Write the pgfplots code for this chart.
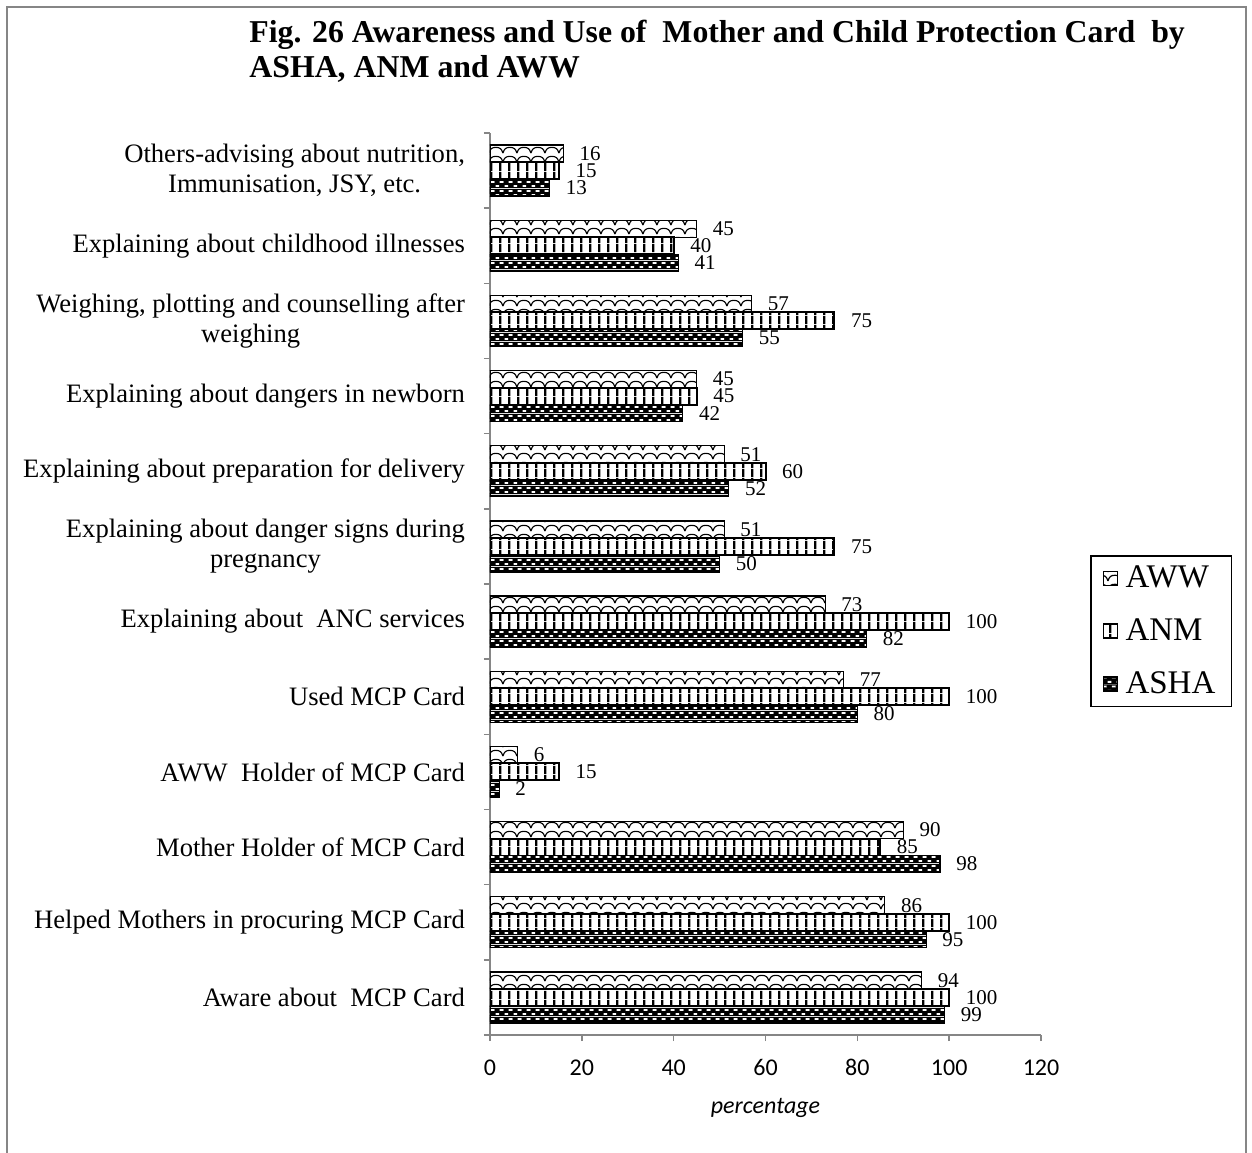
\documentclass[border=0pt]{standalone}
\usepackage{fontspec}
\setmainfont{Liberation Serif}
\newfontfamily\carlito{Carlito}
\usepackage{pgfplots}
\pgfplotsset{compat=1.18}
\usetikzlibrary{patterns}

\pgfdeclarepatterninherentlycolored{awwpat}{\pgfpointorigin}{\pgfpoint{7.2pt}{4.25pt}}{\pgfpoint{7.2pt}{4.25pt}}{%
  \pgfsetfillcolor{white}%
  \pgfpathrectangle{\pgfpointorigin}{\pgfpoint{7.2pt}{4.25pt}}\pgfusepath{fill}%
  \pgfsetstrokecolor{black}\pgfsetlinewidth{0.6pt}%
  \pgfpathmoveto{\pgfpoint{0pt}{0.5pt}}%
  \pgfpathcurveto{\pgfpoint{0.6pt}{2.8pt}}{\pgfpoint{1.6pt}{3.5pt}}{\pgfpoint{3.6pt}{3.5pt}}%
  \pgfpathcurveto{\pgfpoint{5.6pt}{3.5pt}}{\pgfpoint{6.6pt}{2.8pt}}{\pgfpoint{7.2pt}{0.5pt}}%
  \pgfusepath{stroke}%
}
\pgfdeclarepatterninherentlycolored{anmpat}{\pgfpointorigin}{\pgfpoint{4.3pt}{4.25pt}}{\pgfpoint{4.3pt}{4.25pt}}{%
  \pgfsetfillcolor{white}%
  \pgfpathrectangle{\pgfpointorigin}{\pgfpoint{4.3pt}{4.25pt}}\pgfusepath{fill}%
  \pgfsetfillcolor{black}%
  \pgfpathrectangle{\pgfpointorigin}{\pgfpoint{1.2pt}{4.25pt}}\pgfusepath{fill}%
}
\pgfdeclarepatterninherentlycolored{ashapat}{\pgfpointorigin}{\pgfpoint{4.5pt}{4.25pt}}{\pgfpoint{4.5pt}{4.25pt}}{%
  \pgfsetfillcolor{black}%
  \pgfpathrectangle{\pgfpointorigin}{\pgfpoint{4.5pt}{4.25pt}}\pgfusepath{fill}%
  \pgfsetfillcolor{white}%
  \pgfpathrectangle{\pgfpoint{0.3pt}{0.6pt}}{\pgfpoint{2pt}{0.9pt}}\pgfusepath{fill}%
  \pgfpathrectangle{\pgfpoint{2.55pt}{2.75pt}}{\pgfpoint{1.95pt}{0.9pt}}\pgfusepath{fill}%
}

\definecolor{axgray}{RGB}{134,134,134}

\begin{document}
\begin{tikzpicture}
\useasboundingbox (0,0) rectangle (626pt,-576pt);
\draw[axgray,line width=1pt] (3.5pt,-580pt) -- (3.5pt,-3.5pt) -- (623pt,-3.5pt) -- (623pt,-580pt);
\node[anchor=base west,font=\fontsize{15.9pt}{17.5pt}\selectfont\bfseries,inner sep=0pt] at (124.5pt,-21pt)
  {Fig. 26 Awareness and Use of\ \ Mother and Child Protection Card\ \ by};
\node[anchor=base west,font=\fontsize{15.9pt}{17.5pt}\selectfont\bfseries,inner sep=0pt] at (124.5pt,-38.5pt)
  {ASHA, ANM and AWW};
\begin{axis}[
  at={(245pt,-517.5pt)}, anchor=south west,
  scale only axis, width=275.5pt, height=451pt,
  xbar, bar width=8.5pt,
  xmin=0, xmax=120, ymin=-0.5, ymax=11.5,
  axis x line*=bottom, axis y line*=left,
  axis line style={axgray,line width=0.75pt},
  xtick={0,20,...,120},
  tick align=outside,
  major tick length=3pt, minor tick length=3pt,
  every tick/.style={axgray,line width=0.75pt},
  ytick={0,...,11},
  minor ytick={-0.5,0.5,...,11.5},
  major y tick style={draw=none},
  yticklabels={{Aware about\ \ MCP Card},
    {Helped Mothers in procuring MCP Card},
    {Mother Holder of MCP Card},
    {AWW\ \ Holder of MCP Card},
    {Used MCP Card},
    {Explaining about\ \ ANC services},
    {Explaining about danger signs during\\pregnancy},
    {Explaining about preparation for delivery},
    {Explaining about dangers in newborn},
    {Weighing, plotting and counselling after\\weighing},
    {Explaining about childhood illnesses},
    {Others-advising about nutrition,\\Immunisation, JSY, etc.}},
  yticklabel style={align=center,font=\fontsize{13.3pt}{15pt}\selectfont,xshift=-6pt},
  /pgf/number format/assume math mode=true,
  xticklabel style={font=\carlito\fontsize{12pt}{14pt}\selectfont,text height=8.5pt,text depth=0pt,yshift=-5pt},
  xlabel={percentage},
  xlabel style={font=\carlito\itshape\fontsize{12pt}{14pt}\selectfont,yshift=-5pt},
  nodes near coords,
  every node near coord/.append style={font=\fontsize{10.5pt}{12pt}\selectfont,black,xshift=4.5pt},
  legend style={at={(1.089,0.532)},anchor=north west,draw=black,line width=0.75pt,
    font=\fontsize{16.5pt}{18pt}\selectfont,row sep=10pt,inner xsep=6pt,inner ysep=3pt},
  legend cell align=left,
  legend image code/.code={\draw[#1,line width=0.75pt] (0pt,-3.5pt) rectangle (7pt,3.5pt); \path[draw=none,fill=none,pattern=none] (0pt,0pt) -- (9pt,0pt);},
]
\addplot[draw=black,line width=0.6pt,pattern=awwpat,bar shift=8.5pt] coordinates {
(94,0) (86,1) (90,2) (6,3) (77,4) (73,5) (51,6) (51,7) (45,8) (57,9) (45,10) (16,11)};
\addplot[draw=black,line width=1pt,pattern=anmpat,bar shift=0pt] coordinates {
(100,0) (100,1) (85,2) (15,3) (100,4) (100,5) (75,6) (60,7) (45,8) (75,9) (40,10) (15,11)};
\addplot[draw=black,line width=0.6pt,pattern=ashapat,bar shift=-8.5pt] coordinates {
(99,0) (95,1) (98,2) (2,3) (80,4) (82,5) (50,6) (52,7) (42,8) (55,9) (41,10) (13,11)};
\legend{AWW,ANM,ASHA}
\end{axis}
\end{tikzpicture}
\end{document}
